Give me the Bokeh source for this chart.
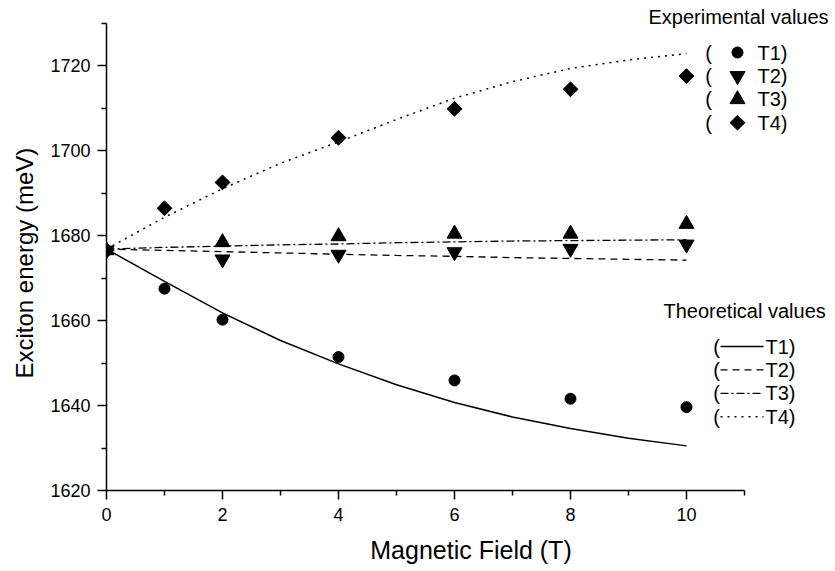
import numpy as np
from bokeh.plotting import figure
from bokeh.models import Range1d, Label, FixedTicker, Title
from bokeh.embed import file_html
from bokeh.resources import INLINE

# ---- data ----
field_exp_T1 = [0, 1, 2, 4, 6, 8, 10]
energy_exp_T1 = [1676.5, 1667.5, 1660.2, 1651.4, 1645.9, 1641.6, 1639.6]
field_exp_T2 = [0, 2, 4, 6, 8, 10]
energy_exp_T2 = [1676.5, 1674.4, 1675.5, 1676.1, 1676.9, 1677.9]
field_exp_T3 = [0, 2, 4, 6, 8, 10]
energy_exp_T3 = [1676.5, 1678.4, 1679.8, 1680.4, 1680.4, 1682.7]
field_exp_T4 = [0, 1, 2, 4, 6, 8, 10]
energy_exp_T4 = [1676.5, 1686.4, 1692.5, 1703.0, 1709.8, 1714.4, 1717.5]

field_th = [0, 1, 2, 3, 4, 5, 6, 7, 8, 9, 10]
energy_th_T1 = [1676.8, 1669.2, 1661.8, 1655.3, 1649.8, 1644.9, 1640.7, 1637.3, 1634.6, 1632.3, 1630.5]
energy_th_T2 = [1676.8, 1676.5, 1676.2, 1675.9, 1675.6, 1675.3, 1675.1, 1674.8, 1674.6, 1674.4, 1674.2]
energy_th_T3 = [1676.8, 1677.2, 1677.5, 1677.8, 1678.0, 1678.3, 1678.5, 1678.7, 1678.8, 1678.9, 1679.0]
energy_th_T4 = [1676.8, 1684.3, 1691.0, 1697.0, 1702.0, 1707.3, 1712.3, 1716.2, 1719.3, 1721.3, 1722.8]

series_labels = ["T1)", "T2)", "T3)", "T4)"]
x_ticks = [0, 2, 4, 6, 8, 10]
y_ticks = [1620, 1640, 1660, 1680, 1700, 1720]

FONT = "Liberation Sans"
W, H = 835, 571
LEFT, BOTTOM = 106, 81
FW, FH = W - LEFT, H - BOTTOM          # frame size in px
PX_PER_T, PX_PER_MEV = 58.0, 4.25

p = figure(width=W, height=H, output_backend="svg", toolbar_location=None,
           x_range=Range1d(0, FW / PX_PER_T), y_range=Range1d(1620, 1620 + FH / PX_PER_MEV),
           min_border_left=LEFT, min_border_right=0, min_border_top=0, min_border_bottom=BOTTOM)
p.outline_line_color = None
p.xgrid.visible = False
p.ygrid.visible = False
# pixel-space ranges for the legend decorations (origin = frame bottom-left)
p.extra_x_ranges = {"px": Range1d(0, FW)}
p.extra_y_ranges = {"px": Range1d(0, FH)}

line_styles = [dict(line_width=1.5), dict(line_width=1.3, line_dash="7 5"),
               dict(line_width=1.3, line_dash="8 3 2 3"), dict(line_width=1.5, line_dash="2 5")]
marker_styles = [dict(marker="circle", size=11), dict(marker="inverted_triangle", size=15),
                 dict(marker="triangle", size=15), dict(marker="square", size=10.5, angle=np.pi / 4)]

# theory lines
for yv, st in zip([energy_th_T1, energy_th_T2, energy_th_T3, energy_th_T4], line_styles):
    p.line(field_th, yv, line_color="black", **st)

# experimental points
for xv, yv, st in zip([field_exp_T1, field_exp_T2, field_exp_T3, field_exp_T4],
                      [energy_exp_T1, energy_exp_T2, energy_exp_T3, energy_exp_T4], marker_styles):
    p.scatter(xv, yv, color="black", **st)

# axes
for ax in (p.xaxis[0], p.yaxis[0]):
    ax.axis_line_width = 1.5
    ax.major_tick_line_width = 1.5
    ax.minor_tick_line_width = 1.5
    ax.major_tick_out = 9
    ax.major_tick_in = 0
    ax.minor_tick_out = 5
    ax.minor_tick_in = 0
    ax.major_label_text_font = FONT
    ax.major_label_text_font_size = "18px"
    ax.major_label_text_color = "black"
    ax.axis_label_text_font = FONT
    ax.axis_label_text_font_style = "normal"
    ax.axis_label_text_color = "black"

p.xaxis.bounds = (0, 11)
p.yaxis.bounds = (1620, 1730)
p.xaxis.ticker = FixedTicker(ticks=x_ticks, minor_ticks=[1, 3, 5, 7, 9, 11])
p.yaxis.ticker = FixedTicker(ticks=y_ticks, minor_ticks=[1630, 1650, 1670, 1690, 1710, 1730])
p.xaxis.axis_label = "Magnetic Field (T)"
p.xaxis.axis_label_text_font_size = "25px"
p.xaxis.major_label_standoff = 8
p.yaxis.major_label_standoff = 7
p.xaxis.axis_label_standoff = 12

# y axis title as a side title so it can be centred on the axis line's extent
ytitle = Title(text="Exciton energy (meV)", align="left", offset=112, vertical_align="middle",
               standoff=17, text_font=FONT, text_font_size="24px", text_font_style="normal",
               text_color="black")
p.add_layout(ytitle, "left")


def fx(px):  # picture x -> frame px
    return px - LEFT


def fy(py):  # picture y -> frame px (upwards)
    return FH - py


def lab(text, px, py, align="left", size="20px"):
    p.add_layout(Label(x=fx(px), y=fy(py), x_range_name="px", y_range_name="px", text=text,
                       text_font=FONT, text_font_size=size, text_color="black",
                       text_align=align, text_baseline="middle"))


ROW = 23.4
# experimental legend
lab("Experimental values", 648, 16)
for i, st in enumerate(marker_styles):
    cy = 52 + ROW * i
    lab("(", 708, cy, "center")
    p.scatter([fx(737)], [fy(cy)], x_range_name="px", y_range_name="px", color="black", **st)
    lab(series_labels[i], 757, cy)

# theoretical legend
lab("Theoretical values", 663, 310)
for i, st in enumerate(line_styles):
    cy = 346 + ROW * i
    lab("(", 716, cy, "center")
    p.line([fx(720), fx(763)], [fy(cy), fy(cy)], x_range_name="px", y_range_name="px",
           line_color="black", **st)
    lab(series_labels[i], 765, cy)

open("out.html", "w").write(file_html(p, INLINE))
